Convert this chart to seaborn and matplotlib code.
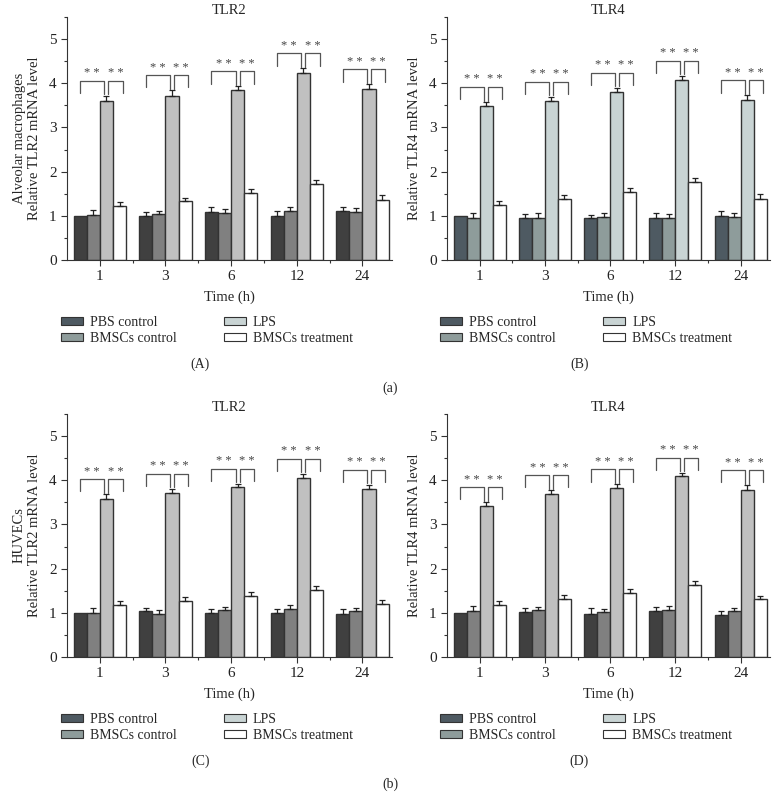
import matplotlib
matplotlib.use("Agg")
import matplotlib.pyplot as plt
from matplotlib.patches import Patch
from matplotlib.ticker import MultipleLocator, FixedLocator
import numpy as np
import pandas as pd
import seaborn as sns

times = ["1", "3", "6", "12", "24"]
groups = ["PBS control", "BMSCs control", "LPS", "BMSCs treatment"]

# rows follow groups, columns follow times
am_tlr2_mean = [[1.00, 0.99, 1.08, 1.00, 1.11],
                [1.02, 1.03, 1.06, 1.10, 1.09],
                [3.59, 3.72, 3.85, 4.24, 3.87],
                [1.22, 1.33, 1.51, 1.72, 1.35]]
am_tlr2_err = [[0.00, 0.09, 0.13, 0.11, 0.10],
               [0.11, 0.09, 0.10, 0.11, 0.09],
               [0.13, 0.13, 0.08, 0.10, 0.11],
               [0.10, 0.08, 0.10, 0.08, 0.11]]

am_tlr4_mean = [[1.00, 0.94, 0.94, 0.95, 1.00],
                [0.95, 0.96, 0.97, 0.95, 0.98],
                [3.48, 3.61, 3.81, 4.07, 3.63],
                [1.24, 1.37, 1.53, 1.76, 1.39]]
am_tlr4_err = [[0.00, 0.11, 0.08, 0.11, 0.10],
               [0.12, 0.11, 0.09, 0.10, 0.08],
               [0.10, 0.09, 0.09, 0.10, 0.10],
               [0.10, 0.10, 0.11, 0.09, 0.10]]

hu_tlr2_mean = [[1.00, 1.04, 0.99, 0.99, 0.97],
                [1.00, 0.97, 1.06, 1.08, 1.03],
                [3.57, 3.71, 3.84, 4.06, 3.80],
                [1.17, 1.26, 1.38, 1.51, 1.21]]
hu_tlr2_err = [[0.00, 0.08, 0.09, 0.09, 0.11],
               [0.10, 0.09, 0.08, 0.09, 0.09],
               [0.12, 0.10, 0.08, 0.09, 0.10],
               [0.10, 0.09, 0.09, 0.09, 0.07]]

hu_tlr4_mean = [[1.00, 1.01, 0.98, 1.04, 0.94],
                [1.05, 1.06, 1.01, 1.06, 1.03],
                [3.41, 3.68, 3.83, 4.09, 3.79],
                [1.17, 1.32, 1.45, 1.62, 1.31]]
hu_tlr4_err = [[0.00, 0.11, 0.13, 0.09, 0.09],
               [0.10, 0.08, 0.07, 0.10, 0.09],
               [0.10, 0.10, 0.08, 0.08, 0.10],
               [0.09, 0.09, 0.09, 0.10, 0.08]]

grey_colors = ["#404040", "#808080", "#c0c0c0", "#ffffff"]
slate_colors = ["#4e5a62", "#8e9c9b", "#c9d4d4", "#ffffff"]

sns.set_style("ticks")
plt.rcParams["font.family"] = ["Liberation Serif", "DejaVu Serif"]
plt.rcParams["font.size"] = 10

fig = plt.figure(figsize=(7.83, 8.10), dpi=100)


def panel(rect, title, ylabel, means, errs, colors, tag):
    ax = fig.add_axes(rect)
    df = pd.DataFrame({
        "time": np.repeat([times], len(groups), axis=0).ravel(),
        "group": np.repeat(groups, len(times)),
        "value": np.ravel(means),
    })
    sns.barplot(data=df, x="time", y="value", hue="group", order=times,
                hue_order=groups, palette=colors, edgecolor="#333333",
                linewidth=1.0, errorbar=None, saturation=1, legend=False,
                ax=ax)
    # upper error bars only
    for cont, m, e in zip(ax.containers, means, errs):
        xs = [p.get_x() + p.get_width() / 2 for p in cont.patches]
        for x, v, d in zip(xs, m, e):
            if d > 0:
                ax.errorbar(x, v, yerr=[[0], [d]], fmt="none", ecolor="#222222",
                            elinewidth=0.9, capsize=2.5, capthick=0.9)
    # significance brackets
    lps = np.array(means[2]) + np.array(errs[2])
    for i in range(len(times)):
        top = lps[i] + 0.34
        low = top - 0.28
        inner = lps[i] + 0.03
        segs = [([i - 0.30, i + 0.07], [low, inner]),
                ([i + 0.13, i + 0.35], [inner, low])]
        for (xa, xb), (ya, yb) in segs:
            ax.plot([xa, xa, xb, xb], [ya, top, top, yb], color="#555555", lw=0.9)
            ax.text((xa + xb) / 2, top + 0.03, "* *", ha="center", va="bottom",
                    fontsize=9, color="#444444")
    ax.set_xlim(-0.5, 4.45)
    ax.set_ylim(0, 5.5)
    ax.yaxis.set_major_locator(FixedLocator([0, 1, 2, 3, 4, 5]))
    ax.yaxis.set_minor_locator(MultipleLocator(0.5))
    ax.xaxis.set_minor_locator(FixedLocator([0.5, 1.5, 2.5, 3.5]))
    ax.tick_params(which="major", length=4, width=0.8, colors="#333333",
                   labelsize=11, labelcolor="#222222")
    ax.tick_params(which="minor", length=2, width=0.8, colors="#333333")
    sns.despine(ax=ax)
    for s in ["left", "bottom"]:
        ax.spines[s].set_color("#333333")
        ax.spines[s].set_linewidth(0.8)
    ax.set_title(title, fontsize=10.5, pad=2)
    ax.set_xlabel("Time (h)", fontsize=10.5, labelpad=5)
    ax.set_ylabel(ylabel, fontsize=10.5, labelpad=6)
    handles = [Patch(facecolor=c, edgecolor="#333333", linewidth=0.8, label=g)
               for c, g in zip(slate_colors, groups)]
    ax.legend(handles=handles, ncol=2, frameon=False, loc="center",
              bbox_to_anchor=(0.43, -0.29), fontsize=10, handlelength=1.6,
              handleheight=0.5, handletextpad=0.5, columnspacing=3.4,
              labelspacing=0.25)
    ax.text(0.41, -0.43, tag, transform=ax.transAxes, ha="center",
            va="center", fontsize=10)
    return ax


h = 243 / 810
panel([67 / 783, 1 - 260 / 810, 325 / 783, h], "TLR2",
      "Alveolar macrophages\nRelative TLR2 mRNA level",
      am_tlr2_mean, am_tlr2_err, grey_colors, "(A)")
panel([447 / 783, 1 - 260 / 810, 323 / 783, h], "TLR4",
      "Relative TLR4 mRNA level",
      am_tlr4_mean, am_tlr4_err, slate_colors, "(B)")
panel([67 / 783, 1 - 657 / 810, 325 / 783, h], "TLR2",
      "HUVECs\nRelative TLR2 mRNA level",
      hu_tlr2_mean, hu_tlr2_err, grey_colors, "(C)")
panel([447 / 783, 1 - 657 / 810, 323 / 783, h], "TLR4",
      "Relative TLR4 mRNA level",
      hu_tlr4_mean, hu_tlr4_err, grey_colors, "(D)")

fig.text(390 / 783, 1 - 388 / 810, "(a)", ha="center", va="center", fontsize=10)
fig.text(390 / 783, 1 - 784 / 810, "(b)", ha="center", va="center", fontsize=10)

fig.savefig("out.png", dpi=100)
